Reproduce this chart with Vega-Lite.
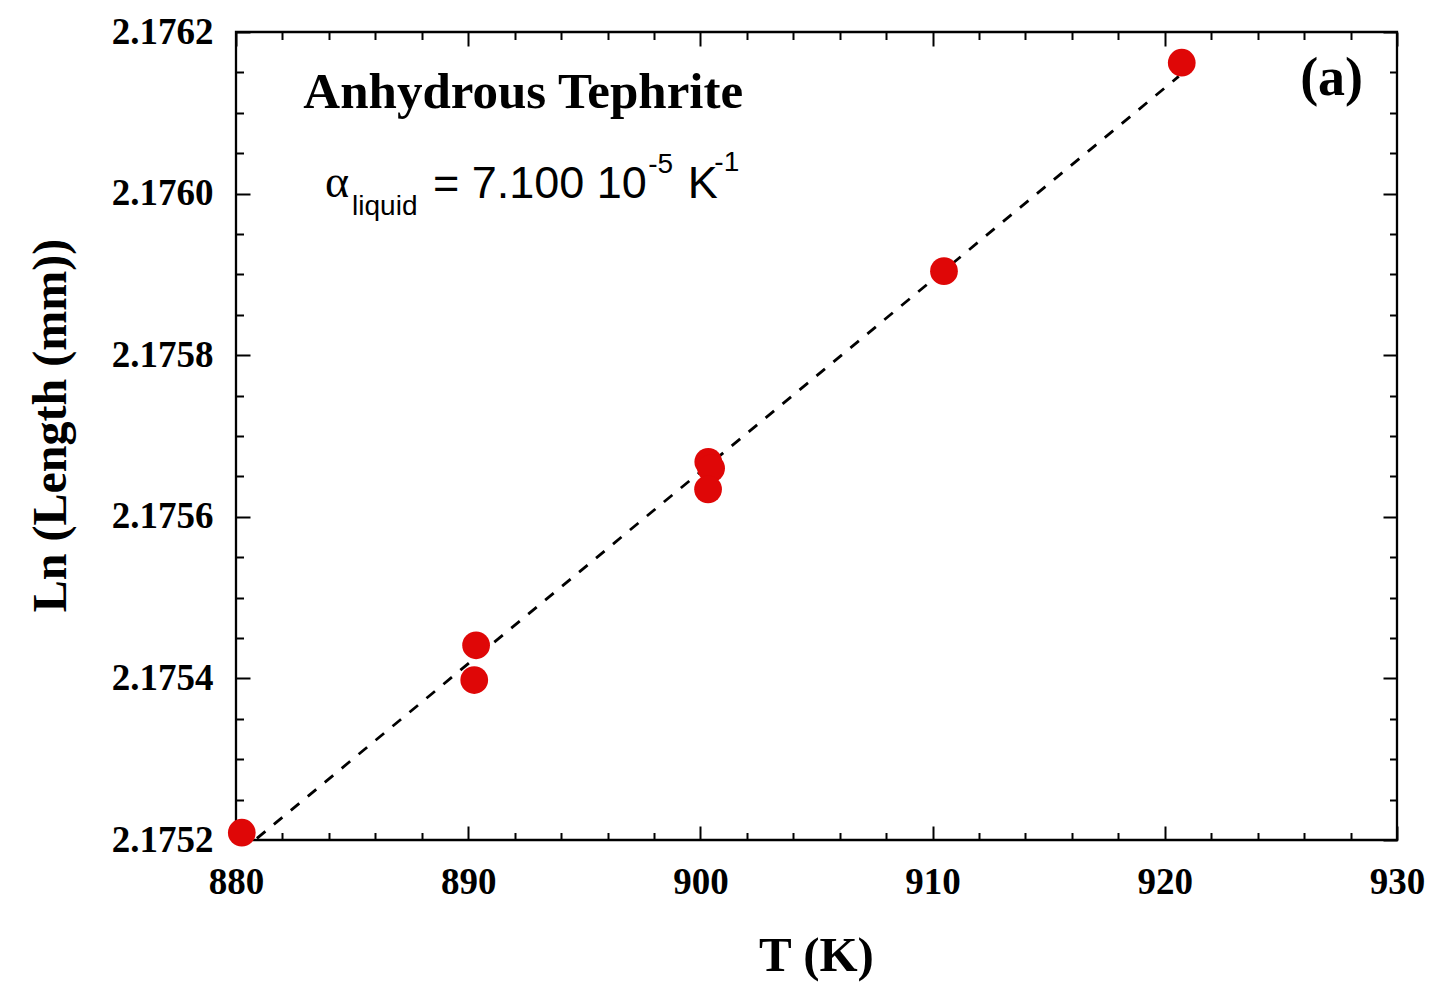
{
  "$schema": "https://vega.github.io/schema/vega-lite/v6.json",
  "width": 1161,
  "height": 808,
  "autosize": {"type": "none"},
  "padding": {"left": 236, "top": 32, "right": 32, "bottom": 143},
  "background": "white",
  "config": {
    "view": {"stroke": "black", "strokeWidth": 2.3},
    "axis": {
      "grid": false,
      "domain": false,
      "tickColor": "black",
      "tickWidth": 2,
      "labelFont": "Liberation Serif",
      "labelFontWeight": "bold",
      "labelFontSize": 37,
      "labelColor": "black",
      "labelOverlap": false,
      "labelFlush": false,
      "titleFont": "Liberation Serif",
      "titleFontWeight": "bold",
      "titleFontSize": 48,
      "titleColor": "black"
    }
  },
  "datasets": {
    "measured": [
      {"T": 880.25, "L": 2.175209},
      {"T": 890.34, "L": 2.175441},
      {"T": 890.26, "L": 2.175398},
      {"T": 900.34, "L": 2.175668},
      {"T": 900.46, "L": 2.17566},
      {"T": 900.33, "L": 2.175634},
      {"T": 910.49, "L": 2.175904},
      {"T": 920.73, "L": 2.176162}
    ],
    "fit": [
      {"T": 880.9, "L": 2.175202},
      {"T": 920.6, "L": 2.176145}
    ],
    "heading": [
      {"T": 882.9, "L": 2.176106, "text": "Anhydrous Tephrite"}
    ],
    "panel": [
      {"T": 928.54, "L": 2.176122, "text": "(a)"}
    ],
    "alpha": [
      {"T": 883.83, "L": 2.175996, "text": "α"}
    ],
    "coefMain": [
      {"T": 888.48, "L": 2.1759946, "text": "= 7.100 10"},
      {"T": 899.45, "L": 2.1759946, "text": "K"}
    ],
    "coefSmall": [
      {"T": 885.0, "L": 2.1759735, "text": "liquid"},
      {"T": 897.75, "L": 2.176025, "text": "-5"},
      {"T": 900.6, "L": 2.176028, "text": "-1"}
    ]
  },
  "resolve": {"axis": {"x": "independent", "y": "independent"}},
  "layer": [
    {
      "data": {"name": "fit"},
      "mark": {"type": "line", "color": "black", "strokeWidth": 2.8, "strokeDash": [11, 11], "clip": true},
      "encoding": {
        "x": {"field": "T", "type": "quantitative", "scale": {"domain": [880, 930], "nice": false, "zero": false},
          "axis": {"orient": "bottom", "values": [882, 884, 886, 888, 892, 894, 896, 898, 902, 904, 906, 908, 912, 914, 916, 918, 922, 924, 926, 928], "labels": false, "tickSize": -7.5, "title": null}},
        "y": {"field": "L", "type": "quantitative", "scale": {"domain": [2.1752, 2.1762], "nice": false, "zero": false},
          "axis": {"orient": "left", "values": [2.17525, 2.1753, 2.17535, 2.17545, 2.1755, 2.17555, 2.17565, 2.1757, 2.17575, 2.17585, 2.1759, 2.17595, 2.17605, 2.1761, 2.17615], "labels": false, "tickSize": -7.5, "title": null}}
      }
    },
    {
      "data": {"name": "measured"},
      "mark": {"type": "point", "shape": "circle", "filled": true, "color": "#df0707", "opacity": 1, "size": 770},
      "encoding": {
        "x": {"field": "T", "type": "quantitative", "scale": {"domain": [880, 930], "nice": false, "zero": false},
          "axis": {"orient": "bottom", "values": [880, 890, 900, 910, 920, 930], "format": "d", "tickSize": -14, "labelPadding": 67, "labelBaseline": "alphabetic",
            "title": "T (K)", "titleX": 580, "titleY": 130, "titleAlign": "center", "titleBaseline": "alphabetic", "titleFontSize": 49}},
        "y": {"field": "L", "type": "quantitative", "scale": {"domain": [2.1752, 2.1762], "nice": false, "zero": false},
          "axis": {"orient": "left", "values": [2.1752, 2.1754, 2.1756, 2.1758, 2.176, 2.1762], "format": ".4f", "tickSize": -14, "labelPadding": 37,
            "title": "Ln (Length (mm))", "titleX": -171, "titleY": 393, "titleAngle": -90, "titleAlign": "center", "titleBaseline": "alphabetic"}}
      }
    },
    {
      "data": {"name": "heading"},
      "mark": {"type": "text", "font": "Liberation Serif", "fontWeight": "bold", "fontSize": 51, "align": "left", "baseline": "alphabetic", "color": "black"},
      "encoding": {
        "x": {"field": "T", "type": "quantitative", "scale": {"domain": [880, 930], "nice": false, "zero": false},
          "axis": {"orient": "top", "values": [880, 890, 900, 910, 920, 930], "labels": false, "tickSize": -14, "title": null}},
        "y": {"field": "L", "type": "quantitative", "scale": {"domain": [2.1752, 2.1762], "nice": false, "zero": false},
          "axis": {"orient": "right", "values": [2.1752, 2.1754, 2.1756, 2.1758, 2.176, 2.1762], "labels": false, "tickSize": -14, "title": null}},
        "text": {"field": "text"}
      }
    },
    {
      "data": {"name": "panel"},
      "mark": {"type": "text", "font": "Liberation Serif", "fontWeight": "bold", "fontSize": 54, "align": "right", "baseline": "alphabetic", "color": "black"},
      "encoding": {
        "x": {"field": "T", "type": "quantitative", "scale": {"domain": [880, 930], "nice": false, "zero": false},
          "axis": {"orient": "top", "values": [882, 884, 886, 888, 892, 894, 896, 898, 902, 904, 906, 908, 912, 914, 916, 918, 922, 924, 926, 928], "labels": false, "tickSize": -7.5, "title": null}},
        "y": {"field": "L", "type": "quantitative", "scale": {"domain": [2.1752, 2.1762], "nice": false, "zero": false},
          "axis": {"orient": "right", "values": [2.17525, 2.1753, 2.17535, 2.17545, 2.1755, 2.17555, 2.17565, 2.1757, 2.17575, 2.17585, 2.1759, 2.17595, 2.17605, 2.1761, 2.17615], "labels": false, "tickSize": -7.5, "title": null}},
        "text": {"field": "text"}
      }
    },
    {
      "data": {"name": "alpha"},
      "mark": {"type": "text", "font": "Liberation Serif", "fontSize": 46, "align": "left", "baseline": "alphabetic", "color": "black"},
      "encoding": {
        "x": {"field": "T", "type": "quantitative", "scale": {"domain": [880, 930], "nice": false, "zero": false}, "axis": null},
        "y": {"field": "L", "type": "quantitative", "scale": {"domain": [2.1752, 2.1762], "nice": false, "zero": false}, "axis": null},
        "text": {"field": "text"}
      }
    },
    {
      "data": {"name": "coefMain"},
      "mark": {"type": "text", "font": "Liberation Sans", "fontSize": 45, "align": "left", "baseline": "alphabetic", "color": "black"},
      "encoding": {
        "x": {"field": "T", "type": "quantitative", "scale": {"domain": [880, 930], "nice": false, "zero": false}, "axis": null},
        "y": {"field": "L", "type": "quantitative", "scale": {"domain": [2.1752, 2.1762], "nice": false, "zero": false}, "axis": null},
        "text": {"field": "text"}
      }
    },
    {
      "data": {"name": "coefSmall"},
      "mark": {"type": "text", "font": "Liberation Sans", "fontSize": 28, "align": "left", "baseline": "alphabetic", "color": "black"},
      "encoding": {
        "x": {"field": "T", "type": "quantitative", "scale": {"domain": [880, 930], "nice": false, "zero": false}, "axis": null},
        "y": {"field": "L", "type": "quantitative", "scale": {"domain": [2.1752, 2.1762], "nice": false, "zero": false}, "axis": null},
        "text": {"field": "text"}
      }
    }
  ]
}
